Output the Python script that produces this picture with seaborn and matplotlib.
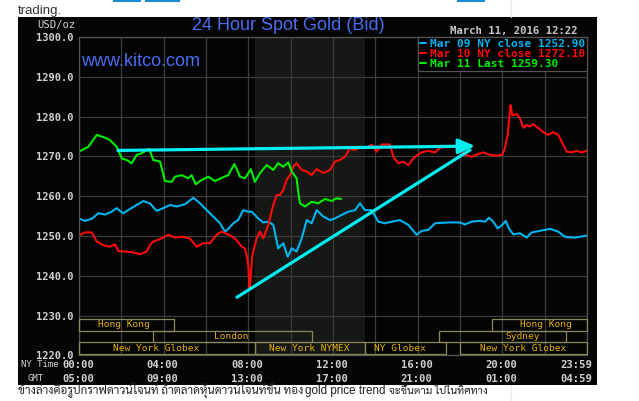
import numpy as np
import pandas as pd
import matplotlib
matplotlib.use('Agg')
import matplotlib.pyplot as plt
import matplotlib.transforms as mtransforms
import seaborn as sns
from matplotlib import font_manager
from matplotlib.lines import Line2D
from matplotlib.patches import Rectangle

# hours after New York midnight -> spot bid, USD/oz
mar09_hours = [0.00, 0.28, 0.60, 0.91, 1.23, 1.54, 1.78, 2.09, 2.41, 2.73, 3.04, 3.35, 3.67, 3.98,
               4.30, 4.62, 5.01, 5.40, 5.72, 6.03, 6.34, 6.66, 6.90, 7.09, 7.29, 7.52, 7.76, 8.00,
               8.16, 8.47, 8.71, 8.94, 9.18, 9.41, 9.65, 9.86, 10.05, 10.28, 10.52, 10.76, 10.99,
               11.23, 11.54, 11.86, 12.09, 12.41, 12.72, 13.04, 13.27, 13.51, 13.83, 14.14, 14.45,
               14.77, 15.16, 15.56, 15.95, 16.19, 16.50, 16.82, 17.44, 18.00, 18.23, 18.55, 18.94,
               19.18, 19.37, 19.57, 19.78, 20.00, 20.16, 20.31, 20.52, 20.83, 21.15, 21.38, 21.78,
               22.25, 22.64, 22.96, 23.43, 23.98]
mar09_price = [1254.4, 1253.8, 1254.3, 1255.7, 1255.4, 1256.1, 1257.0, 1255.7, 1256.8, 1257.8,
               1258.8, 1258.2, 1256.3, 1257.0, 1257.8, 1257.4, 1258.0, 1259.6, 1258.2, 1256.5,
               1254.9, 1253.2, 1251.1, 1252.0, 1253.2, 1254.0, 1256.5, 1256.1, 1256.1, 1254.4,
               1253.4, 1253.6, 1252.8, 1246.9, 1248.2, 1244.8, 1246.9, 1246.1, 1249.4, 1254.0,
               1253.2, 1256.5, 1254.9, 1254.0, 1254.4, 1255.3, 1256.1, 1256.5, 1258.2, 1256.5,
               1256.5, 1253.6, 1253.2, 1253.6, 1254.0, 1252.8, 1250.3, 1251.3, 1251.5, 1253.2,
               1253.4, 1253.4, 1252.9, 1253.6, 1253.8, 1253.6, 1254.6, 1253.6, 1251.9, 1252.8,
               1253.8, 1251.9, 1250.4, 1250.7, 1249.6, 1250.9, 1251.3, 1251.8, 1251.1, 1249.8,
               1249.6, 1250.1]

mar10_hours = [0.00, 0.28, 0.60, 0.84, 1.15, 1.46, 1.70, 1.86, 2.17, 2.56, 2.88, 3.20, 3.35, 3.51,
               3.91, 4.22, 4.53, 4.85, 5.24, 5.56, 5.87, 6.19, 6.50, 6.74, 7.05, 7.37, 7.69, 7.84,
               7.92, 8.00, 8.05, 8.10, 8.19, 8.39, 8.55, 8.71, 8.94, 9.18, 9.34, 9.49, 9.65, 9.81,
               9.97, 10.12, 10.28, 10.52, 10.76, 10.99, 11.23, 11.54, 11.86, 12.09, 12.33, 12.56,
               12.80, 13.04, 13.27, 13.51, 13.83, 14.06, 14.30, 14.69, 14.85, 15.08, 15.32, 15.56,
               15.79, 16.03, 16.19, 16.50, 16.82, 17.05, 17.44, 17.92, 18.23, 18.55, 18.79, 19.10,
               19.41, 19.73, 20.00, 20.12, 20.25, 20.36, 20.39, 20.47, 20.68, 20.83, 20.99, 21.15,
               21.30, 21.46, 21.70, 21.93, 22.17, 22.40, 22.64, 22.80, 23.04, 23.27, 23.51, 23.74,
               23.98]
mar10_price = [1250.1, 1250.9, 1250.9, 1248.6, 1247.7, 1247.3, 1247.9, 1246.2, 1246.1, 1245.9,
               1245.4, 1246.1, 1247.7, 1248.6, 1249.4, 1250.3, 1249.6, 1249.8, 1249.4, 1247.3,
               1248.2, 1248.2, 1250.3, 1251.1, 1250.4, 1249.4, 1247.3, 1246.9, 1245.2, 1242.5,
               1237.0, 1239.0, 1245.2, 1249.4, 1251.1, 1249.4, 1252.8, 1257.8, 1260.3, 1260.3,
               1261.6, 1264.1, 1265.3, 1267.4, 1268.3, 1266.6, 1266.2, 1265.3, 1266.8, 1265.8,
               1266.6, 1268.7, 1269.1, 1269.9, 1272.0, 1271.6, 1272.4, 1272.0, 1272.9, 1271.2,
               1273.0, 1273.0, 1269.9, 1268.3, 1268.7, 1267.8, 1269.5, 1270.5, 1271.0, 1271.4,
               1271.0, 1272.2, 1272.4, 1272.4, 1270.4, 1269.9, 1270.5, 1271.0, 1270.4, 1270.2,
               1270.4, 1272.0, 1275.4, 1281.2, 1282.9, 1280.4, 1280.6, 1279.6, 1277.2, 1277.9,
               1277.5, 1278.1, 1277.1, 1276.1, 1275.4, 1276.1, 1275.4, 1273.7, 1271.2, 1271.0,
               1271.4, 1271.0, 1271.4]

mar11_hours = [0.00, 0.44, 0.84, 1.23, 1.46, 1.78, 2.02, 2.25, 2.49, 2.73, 2.96, 3.31, 3.51, 3.83,
               4.06, 4.38, 4.53, 4.85, 5.16, 5.32, 5.51, 5.80, 6.11, 6.42, 6.74, 7.05, 7.34, 7.61,
               7.84, 8.12, 8.31, 8.55, 8.87, 9.18, 9.41, 9.65, 9.89, 10.05, 10.28, 10.36, 10.44,
               10.68, 10.99, 11.30, 11.62, 11.94, 12.17, 12.38]
mar11_price = [1271.2, 1272.4, 1275.4, 1274.7, 1274.1, 1272.4, 1269.5, 1269.1, 1268.3, 1270.4,
               1270.8, 1271.9, 1269.1, 1268.7, 1263.8, 1263.6, 1264.9, 1265.3, 1264.5, 1265.3,
               1263.0, 1264.1, 1264.9, 1263.8, 1264.6, 1265.3, 1268.1, 1264.9, 1264.5, 1266.8,
               1263.6, 1265.8, 1267.8, 1266.6, 1268.3, 1267.4, 1268.5, 1266.2, 1264.5, 1261.0,
               1258.2, 1257.4, 1258.6, 1258.2, 1259.3, 1258.8, 1259.5, 1259.3]

series_names = ['Mar 09', 'Mar 10', 'Mar 11']
legend_labels = ['Mar 09 NY close 1252.90', 'Mar 10 NY close 1272.10', 'Mar 11 Last 1259.30']

y_ticks = [1220, 1230, 1240, 1250, 1260, 1270, 1280, 1290, 1300]
ny_time_labels = ['00:00', '04:00', '08:00', '12:00', '16:00', '20:00', '23:59']
gmt_labels = ['05:00', '09:00', '13:00', '17:00', '21:00', '01:00', '04:59']
label_hours = [0, 4, 8, 12, 16, 20, 23.98]

# trading sessions: name, open, close (NY hours), row from the top
session_names = ['Hong Kong', 'London', 'New York Globex', 'New York NYMEX', 'NY Globex',
                 'Sydney', 'New York Globex', 'Hong Kong']
session_open = [0.0, 3.5, 0.0, 8.33, 13.5, 17.0, 18.0, 19.5]
session_close = [4.5, 11.0, 8.33, 13.5, 17.33, 23.0, 24.0, 24.0]
session_row = [0, 1, 2, 2, 2, 1, 2, 0]
nymex_hours = (8.33, 13.5)

# layout-only: where each session name sits
session_label_at = [2.13, 7.18, 3.66, 10.89, 15.16, 20.97, 20.97, 22.04]

# hand-drawn trend arrows (start, end)
flat_arrow = ((1.84, 1271.5), (18.71, 1272.6))
rise_arrow = ((7.46, 1234.6), (18.47, 1271.6))

# page caption under the chart, split by script
note_parts = ['ข้างล่างคือรูปกราฟดาวน์โจนท์ ถ้าตลาดหุ้นดาวน์โจนท์ขึ้น ทอง',
              'gold price trend',
              'จะขึ้นตาม ไปในทิศทาง']
note_span = [(18, 302), (305, 385), (389, 488)]


def thai_font(prefer=('Sarabun', 'Noto Sans Thai Looped', 'Noto Sans Thai', 'Tahoma', 'Loma',
                      'Garuda', 'Waree', 'Kanit', 'Trirong'), fallback='DejaVu Sans'):
    names = {f.name for f in font_manager.fontManager.ttflist}
    for name in prefer:
        if name in names:
            return name
    return fallback


sns.set_theme(style='dark')
plt.rcParams['font.family'] = ['DejaVu Sans']
thai = thai_font()
mono = 'DejaVu Sans Mono'

W, H = 639, 401
fig = plt.figure(figsize=(W / 100, H / 100), dpi=100)
fig.patch.set_facecolor('white')


def fx(x):
    return x / W


def fy(y):
    return 1 - y / H


# black chart panel and page bits
fig.add_artist(Rectangle((fx(18), fy(385)), (597 - 18) / W, (385 - 17) / H,
                         transform=fig.transFigure, facecolor='#050505', edgecolor='none', zorder=-5))
for x0, x1 in [(113, 141), (145, 180), (457, 485)]:
    fig.add_artist(Rectangle((fx(x0), fy(1.5)), (x1 - x0) / W, 1.5 / H, transform=fig.transFigure,
                             facecolor='#1b8ad6', edgecolor='none'))
for y0, y1 in [(0, 17), (385, 401)]:
    fig.add_artist(Line2D([fx(510.5)] * 2, [fy(y0), fy(y1)], transform=fig.transFigure,
                          color='#e8e8e8', lw=0.8))

ax = fig.add_axes([fx(79), fy(355.4), (587 - 79) / W, (355.4 - 37) / H])
ax.set_facecolor('#040404')
ax.axvspan(*nymex_hours, color='#161815', zorder=0, lw=0)

colors = ['#00b4f0', '#ff0a0a', '#00ee00']
df = pd.concat([
    pd.DataFrame({'hour': h, 'price': p, 'day': n})
    for n, h, p in zip(series_names, [mar09_hours, mar10_hours, mar11_hours],
                       [mar09_price, mar10_price, mar11_price])
])
sns.lineplot(data=df, x='hour', y='price', hue='day', palette=dict(zip(series_names, colors)),
             estimator=None, sort=False, legend=False, lw=1.5, ax=ax, zorder=2)

ax.set_xlim(0, 24)
ax.set_ylim(1220, 1300)
ax.set_xlabel('')
ax.set_ylabel('')
ax.set_xticks(np.arange(0, 25, 2))
ax.set_yticks(y_ticks)
ax.set_yticklabels([f'{v:.1f}' for v in y_ticks])
ax.tick_params(axis='x', length=0, labelbottom=False)
ax.tick_params(axis='y', length=0, pad=3.8, labelsize=7.5, labelcolor='#d2d2d2')
for lbl in ax.get_yticklabels():
    lbl.set_fontfamily(mono)
    lbl.set_fontweight('bold')
ax.grid(True, color='#3c3c3c', lw=0.9)
for sp in ax.spines.values():
    sp.set_color('#555555')
    sp.set_linewidth(0.9)

# session boxes
row_h = 2.95
row_top = [1229.15, 1226.2, 1223.25]
for name, s, e, r, lx in zip(session_names, session_open, session_close, session_row, session_label_at):
    ax.add_patch(Rectangle((s, row_top[r] - row_h), e - s, row_h, fill=False,
                           edgecolor='#8c875a', lw=0.9, zorder=3, clip_on=False))
    ax.text(lx, row_top[r] - row_h / 2, name, ha='center', va='center', color='#e6b200',
            fontsize=6.8, family=mono, zorder=4)

# arrows
arrow_color = '#00eef0'
ax.annotate('', xy=rise_arrow[1], xytext=rise_arrow[0],
            arrowprops=dict(arrowstyle='-', color=arrow_color, lw=2.3, shrinkA=0, shrinkB=0), zorder=5)
ax.annotate('', xy=flat_arrow[1], xytext=flat_arrow[0],
            arrowprops=dict(arrowstyle='-|>,head_length=10,head_width=4.5', mutation_scale=1,
                            color=arrow_color, lw=2.3, shrinkA=0, shrinkB=0), zorder=5)

# legend
handles = [Line2D([], [], color=c, lw=1.5) for c in colors]
leg = ax.legend(handles, legend_labels, loc='upper right', borderaxespad=0, frameon=True,
                fancybox=False, facecolor='black', edgecolor='#555555', framealpha=1,
                handlelength=0.5, handletextpad=0.35, labelspacing=0.0, borderpad=0.2,
                prop=dict(family=mono, weight='bold', size=8), labelcolor='linecolor')
leg.get_frame().set_linewidth(0.9)
leg.set_zorder(6)

# time axis labels
xt = ax.get_xaxis_transform()
for i, (h, ny, gmt) in enumerate(zip(label_hours, ny_time_labels, gmt_labels)):
    ha = 'right' if i == len(label_hours) - 1 else 'center'
    tr = mtransforms.offset_copy(xt, fig=fig, x=(6 if ha == 'right' else -1), units='dots')
    ax.text(h, (355.4 - 364.5) / 318.4, ny, ha=ha, va='center', transform=tr, family=mono,
            weight='bold', fontsize=7.6, color='#d2d2d2', clip_on=False)
    ax.text(h, (355.4 - 378.5) / 318.4, gmt, ha=ha, va='center', transform=tr, family=mono,
            weight='bold', fontsize=7.6, color='#d2d2d2', clip_on=False)

fig.text(fx(21), fy(364.5), 'NY Time', ha='left', va='center', family=mono, fontsize=6.5, color='#d2d2d2')
fig.text(fx(36), fy(378.5), 'GMT', ha='center', va='center', family=mono, fontsize=6.5, color='#d2d2d2')
fig.text(fx(75), fy(25), 'USD/oz', ha='right', va='center', family=mono, fontsize=7.6, color='#d2d2d2')

fig.text(fx(288), fy(26), '24 Hour Spot Gold (Bid)', ha='center', va='center',
         family='Liberation Sans', fontsize=13, color='#4a6cf0')
fig.text(fx(81), fy(62), 'www.kitco.com', ha='left', va='center',
         family='Liberation Sans', fontsize=13, color='#4a6cf0')
fig.text(fx(577), fy(31), 'March 11, 2016 12:22', ha='right', va='center', family=mono,
         weight='bold', fontsize=7.7, color='#c8c8c8')

fig.text(fx(18), fy(14), 'trading.', ha='left', va='baseline', family='Liberation Sans',
         fontsize=9.5, color='#333333')

# caption: each piece sized to the width it takes on the page
renderer = fig.canvas.get_renderer()
for part, (x0, x1) in zip(note_parts, note_span):
    fam = 'Liberation Sans' if part.isascii() else thai
    t = fig.text(fx(x0), fy(394), part, ha='left', va='baseline', family=[fam, 'DejaVu Sans'],
                 fontsize=9.5, color='#222222')
    w = t.get_window_extent(renderer).width
    t.set_fontsize(min(9.5, 9.5 * (x1 - x0) / w))

fig.savefig('out.png', dpi=100, facecolor='white')
plt.close(fig)
